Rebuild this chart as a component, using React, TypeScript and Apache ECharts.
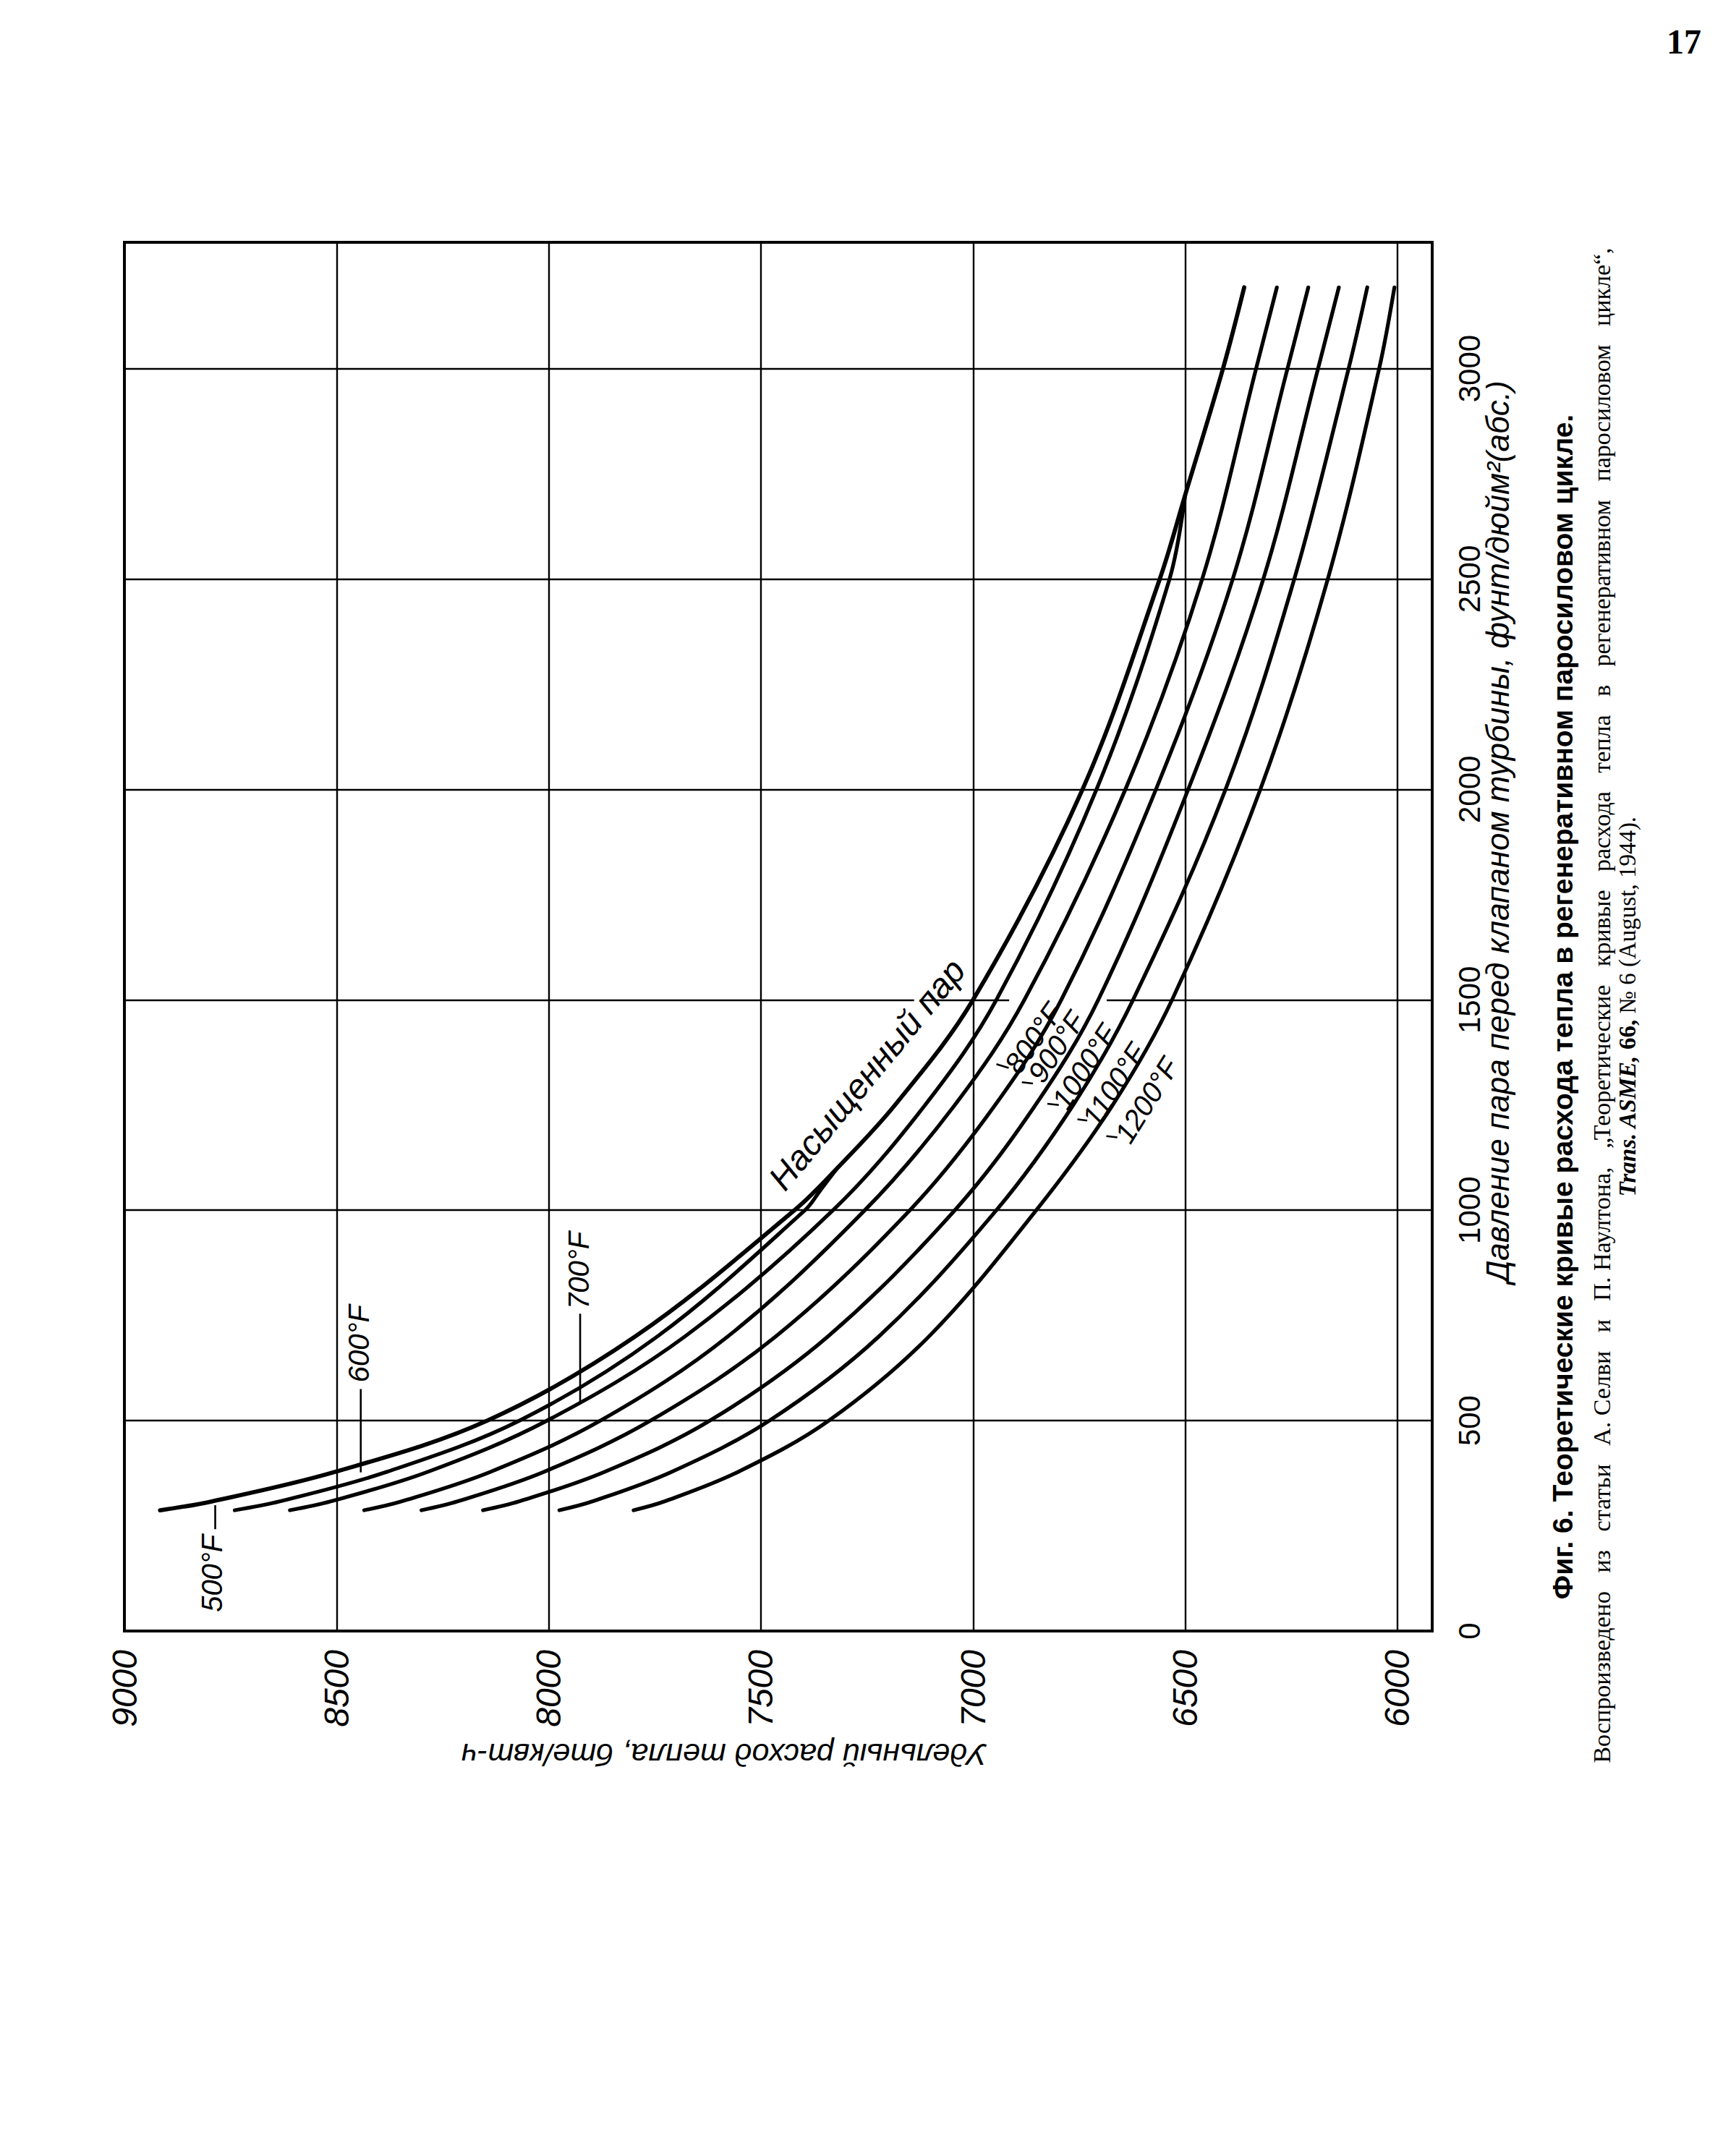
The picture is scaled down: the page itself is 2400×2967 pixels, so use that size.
import React, { useEffect, useRef } from "react";
import * as echarts from "echarts";

// ---- axis ticks ----
const heatTicks = [6000, 6500, 7000, 7500, 8000, 8500, 9000];
const pressureTicks = [0, 500, 1000, 1500, 2000, 2500, 3000];

// ---- curves: [heat rate (btu/kWh), throttle pressure (psia)] ----
// 500°F curve continues as the saturated-steam curve
const curve500 = [[8916, 287], [8794, 308], [8504, 378], [8145, 500], [7796, 700]];
const curveSat = [[7796, 700], [7421, 1000], [7320, 1100], [7184, 1250], [7000, 1500], [6742, 2000], [6560, 2500], [6500, 2700], [6411, 3000], [6361, 3193]];
const curve600 = [[8740, 287], [8634, 308], [8382, 378], [8069, 500], [7744, 700], [7396, 1000], [7358, 1050], [7320, 1100]];
const curve700 = [[8610, 287], [8514, 308], [8286, 378], [8004, 500], [7679, 700], [7330, 1000], [7113, 1250], [6945, 1500], [6709, 2000], [6537, 2500], [6500, 2700]];
const curve800 = [[8435, 287], [8347, 308], [8138, 378], [7878, 500], [7578, 700], [7255, 1000], [7043, 1250], [6879, 1500], [6641, 2000], [6460, 2500], [6333, 3000], [6284, 3193]];
const curve900 = [[8300, 287], [8215, 308], [8012, 378], [7760, 500], [7465, 700], [7149, 1000], [6948, 1250], [6792, 1500], [6569, 2000], [6388, 2500], [6259, 3000], [6210, 3193]];
const curve1000 = [[8155, 287], [8070, 308], [7869, 378], [7620, 500], [7342, 700], [7043, 1000], [6853, 1250], [6705, 1500], [6493, 2000], [6316, 2500], [6187, 3000], [6138, 3193]];
const curve1100 = [[7975, 287], [7897, 308], [7711, 378], [7480, 500], [7222, 700], [6945, 1000], [6764, 1250], [6623, 1500], [6405, 2000], [6243, 2500], [6115, 3000], [6071, 3193]];
const curve1200 = [[7800, 287], [7727, 308], [7554, 378], [7340, 500], [7104, 700], [6851, 1000], [6671, 1250], [6531, 1500], [6323, 2000], [6164, 2500], [6043, 3000], [6007, 3193]];

const seriesNames = ["500°F — насыщенный пар", "600°F", "700°F", "800°F", "900°F", "1000°F", "1100°F", "1200°F"];
const seriesData = [
  [...curve500, ...curveSat.slice(1)],
  curve600,
  curve700,
  curve800,
  curve900,
  curve1000,
  curve1100,
  curve1200,
];

// ---- curve labels (anchored in data space) ----
const labelTexts = ["500°F", "600°F", "700°F", "Насыщенный пар", "800°F", "900°F", "1000°F", "1100°F", "1200°F"];
const labelAnchors = [[8794, 137], [8447, 683], [7930, 857], [7250, 1323], [6858, 1409], [6804, 1388], [6738, 1341], [6668, 1298], [6591, 1261]];
const labelAngles = [90, 90, 90, 50.5, 55, 56, 57, 57, 58];
const labelSizes = [40, 40, 40, 48, 40, 40, 40, 40, 40];

// leader lines (data space)
const leaderLines = [
  [[8786, 242], [8786, 299]],
  [[8443, 377], [8443, 575]],
  [[7926, 546], [7926, 754]],
  [[6945, 1347], [6916, 1338]],
  [[6885, 1304], [6859, 1301]],
  [[6825, 1253], [6798, 1250]],
  [[6754, 1216], [6731, 1213]],
  [[6686, 1176], [6660, 1173]],
];
// gaps in the 1500 gridline where labels sit
const gridGaps = [[7139, 7126, 1500], [6915, 6685, 1500]];

const SANS = "'Liberation Sans', Arial, sans-serif";
const SERIF = "'Liberation Serif', 'Times New Roman', serif";

function buildOption() {
  return {
    animation: false,
    backgroundColor: "#ffffff",
    grid: {
      left: 172,
      top: 335,
      width: 1808,
      height: 1920,
      show: true,
      borderColor: "#000",
      borderWidth: 4,
      backgroundColor: "transparent",
      containLabel: false,
      outerBoundsMode: "none",
    },
    xAxis: {
      type: "value",
      min: 5918,
      max: 9000,
      inverse: true,
      position: "bottom",
      axisLine: { show: false },
      axisTick: { show: false, customValues: heatTicks },
      axisLabel: {
        customValues: heatTicks,
        formatter: (v: number) => String(v),
        rotate: 90,
        margin: 26,
        fontSize: 48,
        fontStyle: "italic",
        fontFamily: SANS,
        color: "#000",
      },
      splitLine: { show: true, lineStyle: { color: "#000", width: 2.4 } },
    },
    yAxis: {
      type: "value",
      min: 0,
      max: 3300,
      position: "right",
      axisLine: { show: false },
      axisTick: { show: false, customValues: pressureTicks },
      axisLabel: {
        customValues: pressureTicks,
        formatter: (v: number) => String(v),
        rotate: 90,
        margin: 30,
        fontSize: 42,
        fontFamily: SANS,
        color: "#000",
      },
      splitLine: { show: true, lineStyle: { color: "#000", width: 2.4 } },
    },
    series: seriesData.map((d, i) => ({
      type: "line",
      name: seriesNames[i],
      data: d,
      smooth: 0.35,
      symbol: "none",
      silent: true,
      z: i === 0 ? 4 : 3,
      lineStyle: { color: "#000", width: i === 0 ? 5.8 : 5.2, cap: "round" },
    })),
  };
}

function textEl(text: string, x: number, y: number, rotDeg: number, style: any, z = 10) {
  return {
    type: "text",
    x,
    y,
    rotation: (rotDeg * Math.PI) / 180,
    z,
    silent: true,
    style: {
      text,
      fill: "#000",
      textAlign: "center",
      textVerticalAlign: "middle",
      ...style,
    },
  };
}

function buildGraphic(chart: any) {
  const px = (p: number[]) => chart.convertToPixel({ gridIndex: 0 }, p) as number[];
  const els: any[] = [];

  gridGaps.forEach(([h1, h2, p]) => {
    const a = px([h1, p]);
    const b = px([h2, p]);
    els.push({ type: "rect", z: 1, silent: true, shape: { x: a[0], y: a[1] - 4, width: b[0] - a[0], height: 8 }, style: { fill: "#fff" } });
  });

  labelTexts.forEach((t, i) => {
    const [x, y] = px(labelAnchors[i]);
    els.push(textEl(t, x, y, labelAngles[i], { fontSize: labelSizes[i], fontStyle: "italic", fontFamily: SANS }));
  });

  leaderLines.forEach(([p1, p2]) => {
    const a = px(p1);
    const b = px(p2);
    els.push({ type: "line", z: 10, silent: true, shape: { x1: a[0], y1: a[1], x2: b[0], y2: b[1] }, style: { stroke: "#000", lineWidth: 2.6 } });
  });

  // axis titles
  els.push(textEl("Давление пара перед клапаном турбины, фунт/дюйм²(абс.)", 2070, 1150, 90, { fontSize: 44, fontStyle: "italic", fontFamily: SANS }));
  els.push(textEl("Удельный расход тепла, бте/квт-ч", 1001, 2426, 180, { fontSize: 43, fontStyle: "italic", fontFamily: SANS }));

  // caption
  els.push(textEl("Фиг. 6. Теоретические кривые расхода тепла в регенеративном паросиловом цикле.", 2160, 1392, 90, { fontSize: 39, fontWeight: "bold", fontFamily: SANS }));
  els.push(textEl("Воспроизведено   из   статьи   А. Селви   и   П. Наултона,   „Теоретические   кривые   расхода   тепла   в   регенеративном   паросиловом   цикле“,", 2214, 1390, 90, { fontSize: 34, fontFamily: SERIF }));
  els.push(textEl("{i|Trans. ASME,} {b|66,} № 6 (August, 1944).", 2250, 1392, 90, {
    fontSize: 33,
    fontFamily: SERIF,
    rich: {
      i: { fontStyle: "italic", fontWeight: "bold", fontSize: 33, fontFamily: SERIF },
      b: { fontWeight: "bold", fontSize: 33, fontFamily: SERIF },
    },
  }));

  // page number
  els.push(textEl("17", 2328, 57, 0, { fontSize: 48, fontWeight: "bold", fontFamily: SERIF }));
  return els;
}

export default function App() {
  const ref = useRef<HTMLDivElement>(null);
  useEffect(() => {
    const el = ref.current;
    if (!el) return;
    const chart = echarts.init(el, null, { renderer: "svg", width: 2400, height: 2967 });
    chart.setOption(buildOption() as any);
    chart.setOption({ graphic: { elements: buildGraphic(chart) } } as any);
    return () => chart.dispose();
  }, []);
  return (
    <div
      ref={ref}
      style={{ position: "absolute", left: 0, top: 0, width: 2400, height: 2967, background: "#fff" }}
    />
  );
}
